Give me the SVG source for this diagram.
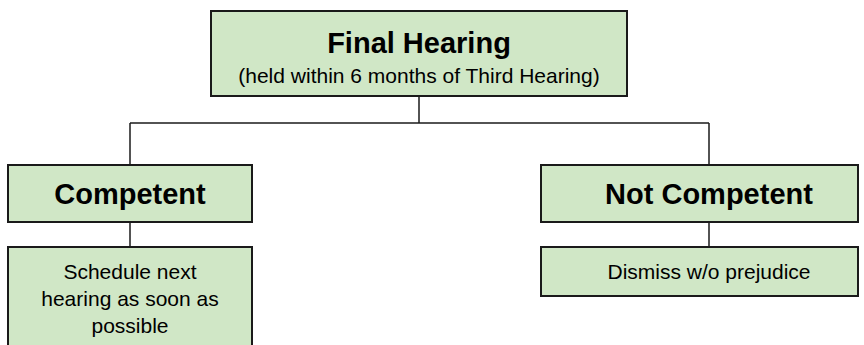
<svg xmlns="http://www.w3.org/2000/svg" width="864" height="345" viewBox="0 0 864 345">
  <style>
    .box { fill: #d0e7c6; stroke: #1a1a1a; stroke-width: 2; }
    .wire { fill: none; stroke: #1a1a1a; stroke-width: 1.5; }
    text { font-family: "Liberation Sans", Arial, sans-serif; fill: #000; text-anchor: middle; }
    .head { font-size: 29px; font-weight: bold; }
    .note { font-size: 21px; }
  </style>
  <rect width="864" height="345" fill="#fff"/>

  <!-- connectors -->
  <g id="connectors">
    <path class="wire" d="M419,96 V123"/>
    <path class="wire" d="M130,123 H709"/>
    <path class="wire" d="M130,123 V165"/>
    <path class="wire" d="M709,123 V165"/>
    <path class="wire" d="M130,222 V247"/>
    <path class="wire" d="M709,222 V247"/>
  </g>

  <g id="final-hearing">
    <rect class="box" x="211" y="11" width="416" height="85"/>
    <text class="head" x="419" y="53">Final Hearing</text>
    <text class="note" x="419" y="83">(held within 6 months of Third Hearing)</text>
  </g>

  <g id="competent">
    <rect class="box" x="8" y="165" width="244" height="57"/>
    <text class="head" x="130" y="204">Competent</text>
  </g>

  <g id="schedule">
    <rect class="box" x="8" y="247" width="244" height="110"/>
    <text class="note" x="130" y="279">Schedule next</text>
    <text class="note" x="130" y="306">hearing as soon as</text>
    <text class="note" x="130" y="333">possible</text>
  </g>

  <g id="not-competent">
    <rect class="box" x="541" y="165" width="317" height="57"/>
    <text class="head" x="709" y="204">Not Competent</text>
  </g>

  <g id="dismiss">
    <rect class="box" x="541" y="247" width="317" height="49"/>
    <text class="note" x="709" y="279">Dismiss w/o prejudice</text>
  </g>
</svg>
